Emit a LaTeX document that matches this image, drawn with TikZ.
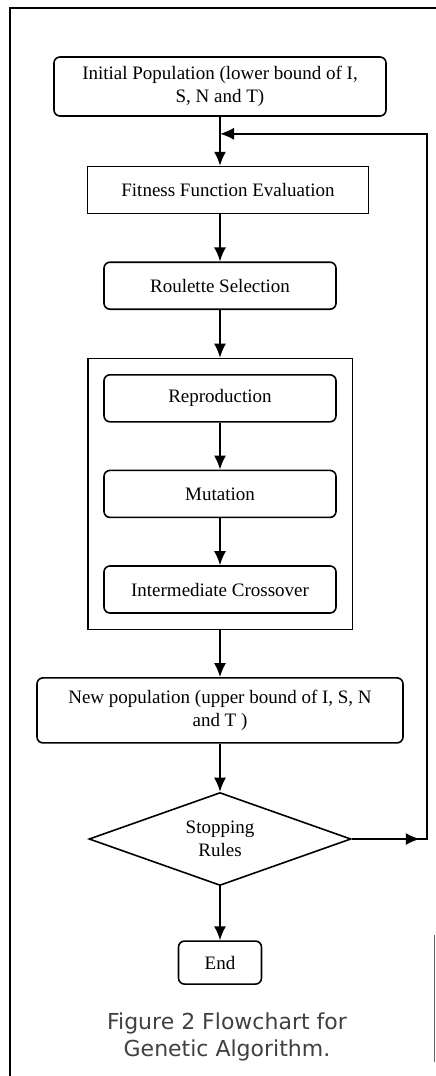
\documentclass[tikz,border=0pt]{standalone}
\usepackage{fontspec}
\setmainfont{Liberation Serif}
\newfontfamily\capfont{DejaVu Sans}
\usetikzlibrary{arrows.meta,positioning,shapes.geometric,fit}

\begin{document}
\begin{tikzpicture}[x=1pt, y=1pt, node distance=47pt, line width=1.6pt,
 >={Latex[length=14pt,width=12pt]},
 block/.style = {draw, rectangle, minimum height=47pt, minimum width=232pt, align=center, rounded corners=6pt, font=\fontsize{19}{23}\selectfont},
 bigblock/.style = {block, minimum height=59pt, minimum width=332pt},
 decide/.style = {draw, diamond, aspect=2.8, minimum width=262pt, minimum height=93pt, inner sep=0pt, align=center, font=\fontsize{19}{23}\selectfont},
 group/.style = {draw, rectangle, inner sep=15.5pt},
                        ]
    \useasboundingbox (0,0) rectangle (436,-1076);
    \draw[line width=2.4pt] (10,-1076) -- (10,-8) -- (436,-8);
    \draw[line width=0.8pt, black!60] (434,-935) -- (434,-1062);

    \node [bigblock]                  (init)    at (220,-86.5) {Initial Population (lower bound of I,\\ S, N and T)};
    \node [block, sharp corners, minimum width=281pt, below=49pt of init, xshift=8pt] (fitness) {Fitness Function Evaluation};
    \node [block, below=of fitness, xshift=-8pt] (roulette) {Roulette Selection};
    \node [block, below=64pt of roulette] (repro)    {Reproduction};
    \node [block, below=of repro]        (mutation) {Mutation};
    \node [block, below=of mutation]     (cross)    {Intermediate Crossover};
    \node [group, fit=(repro)(mutation)(cross)] (ops) {};
    \node [block, minimum width=366pt, minimum height=65pt, below=of ops] (newpop) {New population (upper bound of I, S, N\\ and T )};
    \node [decide, below=48pt of newpop]  (stop)    {Stopping\\ Rules};
    \node [block, minimum width=83pt, minimum height=43pt, below=54pt of stop] (end) {End};
    \node [font=\capfont\fontsize{22}{27}\selectfont, text=black!75, align=center, below=24pt of end, xshift=7pt] (caption) {Figure 2 Flowchart for\\ Genetic Algorithm.};

    \coordinate [below=17pt of init.south]  (join);
    \coordinate [right=75pt of stop.east]   (fbcorner);

%% paths
    \path[draw,->] (init)                     -- (init |- fitness.north);
    \path[draw,->] (fitness.south -| roulette) -- (roulette);
    \path[draw,->] (roulette) -- (ops);
    \path[draw,->] (repro)    -- (mutation);
    \path[draw,->] (mutation) -- (cross);
    \path[draw,->] (ops)      -- (newpop);
    \path[draw,->] (newpop)   -- (stop);
    \path[draw,->] (stop)     -- (end);
    \path[draw,->] (stop.east) -- ([xshift=-7pt]fbcorner);
    \path[draw,->] (stop.east) -- (fbcorner) |- (join);
\end{tikzpicture}
\end{document}
